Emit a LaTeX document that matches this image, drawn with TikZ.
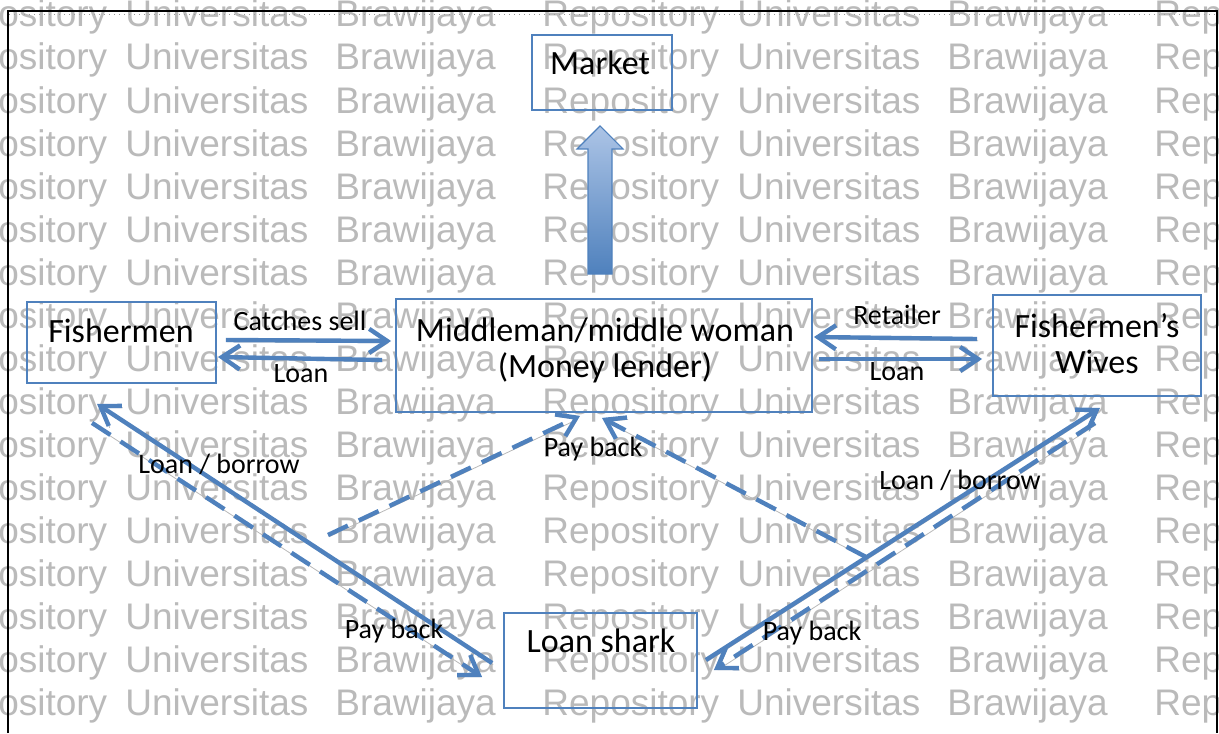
\documentclass[tikz,border=0pt]{standalone}
\usepackage{fontspec}
\setmainfont{Carlito}
\newfontfamily\wmfont{Liberation Sans}
\usetikzlibrary{arrows.meta,calc}
\definecolor{ob}{RGB}{79,129,189}
\definecolor{oblight}{RGB}{172,196,230}
\begin{document}
\begin{tikzpicture}[x=0.5pt,y=-0.5pt,
  wm/.style={font=\wmfont\fontsize{18.5}{20}\selectfont, text=black!27, anchor=base west, inner sep=0},
  box/.style={draw=ob, line width=0.9pt, inner sep=0},
  txt/.style={anchor=base, inner sep=0, font=\fontsize{17}{20}\selectfont},
  lbl/.style={anchor=base, inner sep=0, font=\fontsize{14}{16}\selectfont},
  conn/.style={draw=ob, line width=2.2pt, -{Straight Barb[length=9pt,width=12pt]},
    preaction={draw=black!28, transform canvas={shift={(0.5pt,-0.9pt)}}}},
  dconn/.style={conn, dash pattern=on 11pt off 6pt}]
\useasboundingbox (0,0) rectangle (1219,733);
\clip (0,0) rectangle (1219,733);
% watermark
\foreach \i in {0,...,16} {
  \foreach \k/\n in {-1/a,0/b,1/c} {
    \node[wm] (wr-\i-\n) at ({542+612*\k},{27+43*\i}) {Repository};
    \node[wm] (wu-\i-\n) at ({737+612*\k},{27+43*\i}) {Universitas};
    \node[wm] (wb-\i-\n) at ({947+612*\k},{27+43*\i}) {Brawijaya};
  }
}
% frame
\draw[black, line width=0.75pt] (8,733) -- (8,11) -- (1217,11) -- (1217,733);
\draw[black!40, dotted, line width=0.5pt] (9,15) -- (1216,15);
% boxes
\node[box, minimum width=70pt, minimum height=37.5pt] (market) at (602,72.5) {};
\node[box, minimum width=94.5pt, minimum height=40.5pt] (fish) at (121.5,342.5) {};
\node[box, minimum width=208pt, minimum height=56.5pt] (mid) at (604,355.5) {};
\node[box, minimum width=104pt, minimum height=50.5pt] (wives) at (1097,345.5) {};
\node[box, minimum width=96.5pt, minimum height=47.5pt] (shark) at (600.5,660.5) {};
% box texts
\node[txt] (tmarket) at (600,75) {Market};
\node[txt] (tfish) at (121,342) {Fishermen};
\node[txt] (tmid1) at (605,341) {Middleman/middle woman};
\node[txt] (tmid2) at (605,377) {(Money lender)};
\node[txt] (twives1) at (1097,337) {Fishermen’s};
\node[txt] (twives2) at (1097,373) {Wives};
\node[txt] (tshark) at (601,652) {Loan shark};
% big block arrow to market
\coordinate (ab) at ($(mid.north)+(-4,-24)$);
\coordinate (at) at ($(market.south)+(-2,15)$);
\draw[draw=ob, line width=0.6pt, top color=oblight, bottom color=ob]
  ($(ab)+(-12,0)$) -- ($(at)+(-12,23)$) -- ($(at)+(-23,23)$) -- (at)
  -- ($(at)+(23,23)$) -- ($(at)+(12,23)$) -- ($(ab)+(12,0)$) -- cycle;
% connectors
\draw[conn] ($(fish.east)+(9,-2.5)$) -- ($(mid.west)+(-4,-14.5)$);
\draw[conn] ($(mid.west)+(-13,4.5)$) -- ($(fish.east)+(1,14.5)$);
\draw[conn] ($(wives.west)+(-15,-6.5)$) -- ($(mid.east)+(1,-18.5)$);
\draw[conn] ($(mid.east)+(6,3.5)$) -- ($(wives.west)+(-10,13.5)$);
\draw[conn] ($(shark.west)+(-11,2.5)$) -- ($(fish.south)+(-24.5,20)$);
\draw[dconn] ($(fish.south)+(-29.5,39)$) -- ($(shark.west)+(-21,16.5)$);
\coordinate (pl) at (328,535);
\draw[dconn] (pl) -- ($(mid.south)+(-24,3)$);
\coordinate (pr) at (866,557);
\draw[dconn] (pr) -- ($(mid.south)+(-2,5)$);
\draw[conn] ($(shark.east)+(8,-0.5)$) -- ($(wives.south)+(3,11)$);
\draw[dconn] ($(wives.south)+(-2,26)$) -- ($(shark.east)+(16,9.5)$);
% labels
\node[lbl] (l1) at (300,330) {Catches sell};
\node[lbl] (l2) at (301,382) {Loan};
\node[lbl] (l3) at (897,324) {Retailer};
\node[lbl] (l4) at (897,380) {Loan};
\node[lbl] (l5) at (593,456) {Pay back};
\node[lbl] (l6) at (219,473) {Loan / borrow};
\node[lbl] (l7) at (394,638) {Pay back};
\node[lbl] (l8) at (960,489) {Loan / borrow};
\node[lbl] (l9) at (812,640) {Pay back};
\end{tikzpicture}
\end{document}
